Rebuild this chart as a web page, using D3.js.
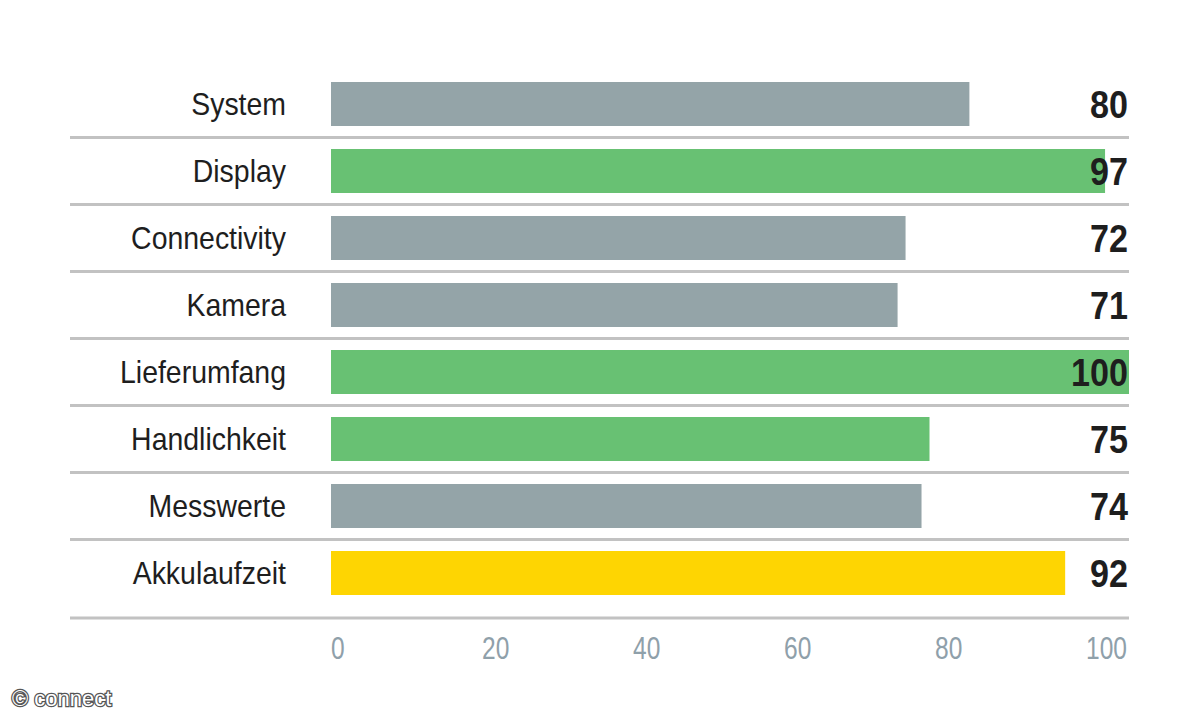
<!DOCTYPE html>
<html><head><meta charset="utf-8">
<script src="https://cdn.jsdelivr.net/npm/d3@7"></script>
<style>
html,body{margin:0;padding:0;background:#fff;}
svg{display:block;}
</style>
</head><body>
<svg id="chart" width="1200" height="720"></svg>
<script>
const categories = ["System","Display","Connectivity","Kamera","Lieferumfang","Handlichkeit","Messwerte","Akkulaufzeit"];
const values = [80,97,72,71,100,75,74,92];
const colorKeys = ["gray","green","gray","gray","green","green","gray","yellow"];
const tickValues = [0,20,40,60,80,100];

const palette = {gray:"#94a4a8", green:"#68c173", yellow:"#fed502"};
const font = "'Liberation Sans',Arial,sans-serif";

const svg = d3.select("#chart");
const x = d3.scaleLinear().domain([0,100]).range([331,1129]);
const y = d3.scaleBand().domain(categories).range([70.5,606.5]).padding(0);
const barH = 44;
const tickX = d3.scalePoint().domain(tickValues).range([331,1086]);

function measure(str,size,weight){
  const t = svg.append("text").attr("font-family",font).attr("font-size",size)
    .attr("font-weight",weight).text(str);
  const w = t.node().getComputedTextLength();
  t.remove();
  return w;
}
const catSize = 32, valSize = 38, tickSize = 31;
const catScale = 166 / measure("Lieferumfang",catSize,"normal");
const valScale = 57 / measure("100",valSize,"bold");
const tickScale = 41 / measure("100",tickSize,"normal");

// separators
svg.selectAll("line.sep").data(categories.slice(0,-1)).enter().append("line")
  .attr("x1",70).attr("x2",1129)
  .attr("y1",d=>y(d)+y.bandwidth()).attr("y2",d=>y(d)+y.bandwidth())
  .attr("stroke","#c2c2c2").attr("stroke-width",3);
svg.append("line").attr("x1",70).attr("x2",1129).attr("y1",618).attr("y2",618)
  .attr("stroke","#c2c2c2").attr("stroke-width",3);

// bars
svg.selectAll("rect.bar").data(categories).enter().append("rect")
  .attr("x",x(0))
  .attr("y",d=>y(d)+(y.bandwidth()-barH)/2)
  .attr("width",(d,i)=>x(values[i])-x(0))
  .attr("height",barH)
  .attr("fill",(d,i)=>palette[colorKeys[i]]);

// category labels
svg.selectAll("text.cat").data(categories).enter().append("text")
  .attr("transform",d=>`translate(286,${y(d)+y.bandwidth()/2-1}) scale(${catScale},1)`)
  .attr("dy","0.36em").attr("text-anchor","end")
  .attr("font-family",font).attr("font-size",catSize).attr("fill","#1e1e1e")
  .text(d=>d);

// values
svg.selectAll("text.val").data(categories).enter().append("text")
  .attr("transform",d=>`translate(1128,${y(d)+y.bandwidth()/2}) scale(${valScale},1)`)
  .attr("dy","0.36em").attr("text-anchor","end")
  .attr("font-family",font).attr("font-weight","bold").attr("font-size",valSize).attr("fill","#1e1e1e")
  .text((d,i)=>values[i]);

// tick labels
svg.selectAll("text.tick").data(tickValues).enter().append("text")
  .attr("transform",d=>`translate(${tickX(d)},648) scale(${tickScale},1)`)
  .attr("dy","0.36em").attr("text-anchor","start")
  .attr("font-family",font).attr("font-size",tickSize).attr("fill","#8fa0aa")
  .text(d=>d);

// copyright
svg.append("text").attr("x",12).attr("y",706)
  .attr("font-family",font).attr("font-size",22)
  .attr("fill","#fff").attr("stroke","#555").attr("stroke-width",2.5).attr("paint-order","stroke")
  .text("© connect");
</script>
</body></html>
